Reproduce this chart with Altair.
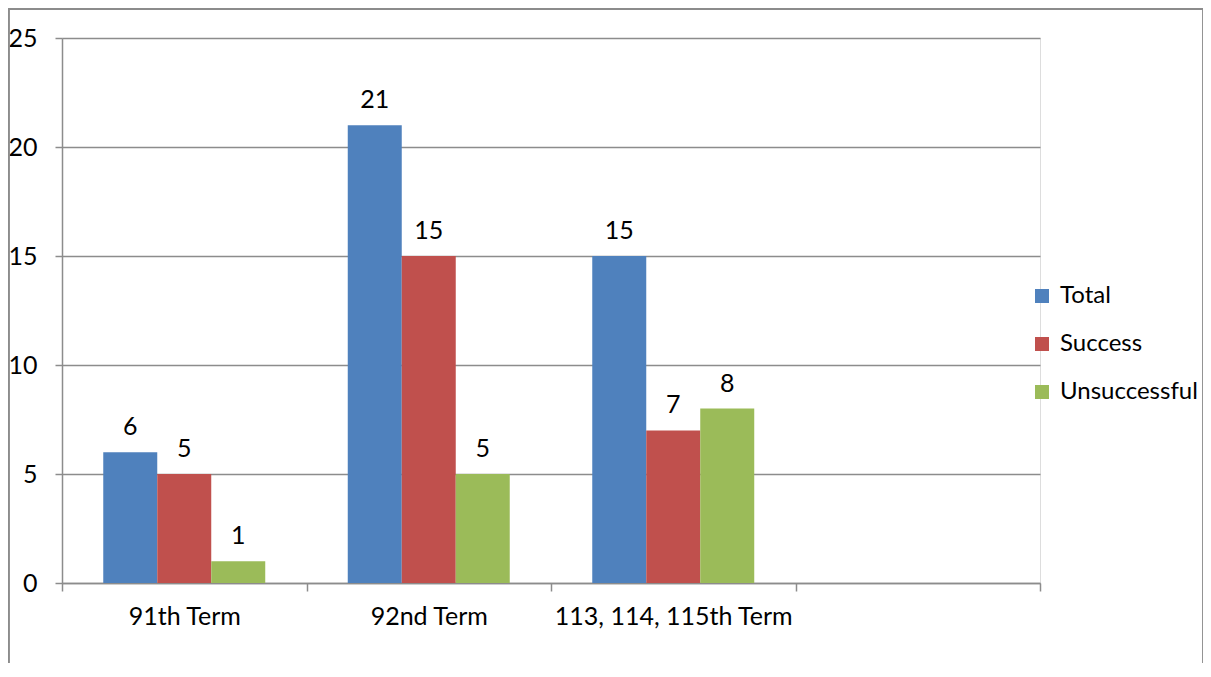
import altair as alt
import pandas as pd

categories = ["91th Term", "92nd Term", "113, 114, 115th Term"]
empty_slot = [" "]
series = ["Total", "Success", "Unsuccessful"]
total = [6, 21, 15]
success = [5, 15, 7]
unsuccessful = [1, 5, 8]
colors = ["#4F81BD", "#C0504D", "#9BBB59"]
y_ticks = [0, 5, 10, 15, 20, 25]

rows = []
for i, c in enumerate(categories):
    for s, vals in zip(series, [total, success, unsuccessful]):
        rows.append({"term": c, "series": s, "value": vals[i]})
df = pd.DataFrame(rows)

FONT = "Lato"
FS = 25
GRAY = "#8c8c8c"
W, H = 978, 545

x_enc = alt.X(
    "term:N",
    scale=alt.Scale(domain=categories + empty_slot, paddingInner=0, paddingOuter=0),
    sort=None,
    axis=alt.Axis(
        title=None, labelAngle=0, tickBand="extent", tickSize=8, labelPadding=13, labelLimit=0,
        domainColor=GRAY, tickColor=GRAY, domainWidth=1.5, tickWidth=1.5,
        labelFont=FONT, labelFontSize=FS, labelColor="#000000", grid=False,
    ),
)
xoff = alt.XOffset("series:N", scale=alt.Scale(domain=series, paddingOuter=0.764, paddingInner=0), sort=None)
y_enc = alt.Y(
    "value:Q",
    scale=alt.Scale(domain=[0, 25], nice=False),
    axis=alt.Axis(
        title=None, values=y_ticks, tickSize=7, labelPadding=18,
        domainColor=GRAY, tickColor=GRAY, gridColor=GRAY, domainWidth=1.5, tickWidth=1.5, gridWidth=1.5,
        labelFont=FONT, labelFontSize=FS, labelColor="#000000",
    ),
)

base = alt.Chart(df).encode(x=x_enc, xOffset=xoff)

bars = base.mark_bar(stroke=None).encode(
    y=y_enc,
    color=alt.Color(
        "series:N", scale=alt.Scale(domain=series, range=colors), sort=None,
        legend=alt.Legend(
            title=None, orient="none", legendX=968, legendY=246,
            symbolType="square", symbolSize=196, symbolStrokeWidth=0,
            labelFont=FONT, labelFontSize=24, labelColor="#000000", labelLimit=0,
            rowPadding=24, labelOffset=6, padding=0,
        ),
    ),
)

labels = base.mark_text(font=FONT, fontSize=FS, color="#000000", baseline="alphabetic", dy=-17).encode(
    y="value:Q", text="value:Q"
)

border_left = alt.Chart(df).mark_rule(color=GRAY, strokeWidth=1.5).encode(
    x=alt.value(-53.5), y=alt.value(-29), y2=alt.value(700)
)
border_top = alt.Chart(df).mark_rule(color=GRAY, strokeWidth=1.5).encode(
    x=alt.value(-53.5), x2=alt.value(1141.5), y=alt.value(-29)
)
border_right = alt.Chart(df).mark_rule(color=GRAY, strokeWidth=1.5).encode(
    x=alt.value(1141.5), y=alt.value(-29), y2=alt.value(700)
)

chart = alt.layer(bars, labels, border_left, border_top, border_right).properties(
    width=W, height=H,
    autosize=alt.AutoSizeParams(type="none"),
    padding={"left": 54, "top": 30, "right": 163, "bottom": 80},
).configure_view(stroke=None).configure(background="white")

chart.save("out.html", embed_options={"renderer": "svg", "actions": False})
